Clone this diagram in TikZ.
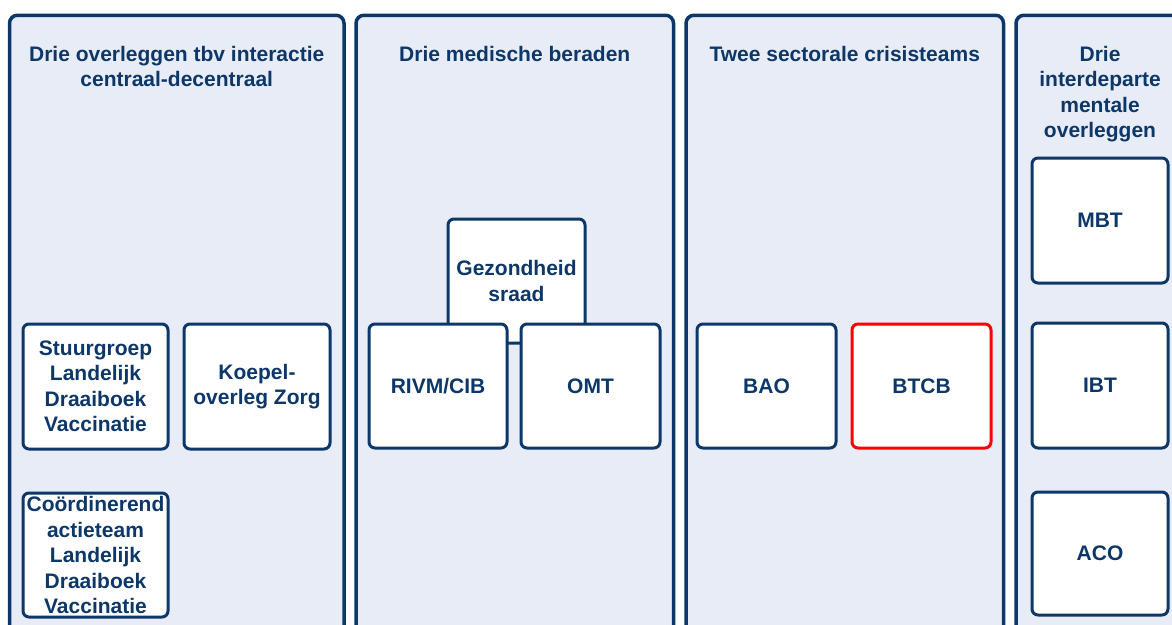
\documentclass[tikz,border=0pt]{standalone}
\usepackage{fontspec}
\setmainfont{Liberation Sans}
\usetikzlibrary{positioning}
\definecolor{navy}{RGB}{12,55,104}
\definecolor{paneel}{RGB}{232,236,246}
\definecolor{rood}{RGB}{255,0,0}

\begin{document}
\begin{tikzpicture}[x=1pt, y=-1pt, node distance=16pt,
	panel/.style={draw=navy, line width=3.5pt, fill=paneel, rounded corners=8pt, minimum width=#1, minimum height=660pt, anchor=north, inner sep=0pt},
	titel/.style={text=navy, font=\fontsize{21}{25.5}\selectfont\bfseries, align=center, anchor=north, inner sep=0pt},
	box/.style={draw=navy, line width=3pt, fill=white, rounded corners=6pt, text=navy, font=\fontsize{21}{25.5}\selectfont\bfseries, align=center, minimum width=138pt, minimum height=124pt, inner sep=0pt, outer sep=0pt}]
			\clip (0,0) rectangle (1172,624);
			% vier panelen
			\node[panel=334.5pt] (p1) at (176.75,13.5) {};
			\node[panel=317.5pt] (p2) at (514.75,13.5) {};
			\node[panel=317.5pt] (p3) at (844.75,13.5) {};
			\node[panel=168pt] (p4) at (1100,13.5) {};
			\node[titel] (t1) at (176.75,46) {Drie overleggen tbv interactie\\centraal-decentraal};
			\node[titel] (t2) at (514.75,46) {Drie medische beraden};
			\node[titel] (t3) at (844.75,46) {Twee sectorale crisisteams};
			\node[titel] (t4) at (1100,46) {Drie\\interdeparte\\mentale\\overleggen};
			% centraal-decentraal
			\node[box, minimum width=145pt, minimum height=125pt] (stuur) at (95.5,386.5) {Stuurgroep\\Landelijk\\Draaiboek\\Vaccinatie};
			\node[box, minimum width=146pt, minimum height=125pt, right=of stuur] (koepel) {Koepel-\\overleg Zorg};
			\node[box, minimum width=145pt, below=44pt of stuur] (coord) {Coördinerend\\actieteam\\Landelijk\\Draaiboek\\Vaccinatie};
			% medische beraden
			\node[box, minimum width=137pt] (gez) at (516.5,281) {Gezondheid\\sraad};
			\node[box] (rivm) at (438,386) {RIVM/CIB};
			\node[box, minimum width=139pt, right=14pt of rivm] (omt) {OMT};
			% crisisteams
			\node[box, minimum width=139pt] (bao) at (766.5,386) {BAO};
			\node[box, minimum width=139pt, draw=rood, right=of bao] (btcb) {BTCB};
			% interdepartementaal
			\node[box, minimum width=136pt, minimum height=125pt] (mbt) at (1100,220.5) {MBT};
			\node[box, minimum width=136pt, minimum height=125pt, below=40pt of mbt] (ibt) {IBT};
			\node[box, minimum width=136pt, minimum height=123pt, below=44pt of ibt] (aco) {ACO};
		\end{tikzpicture}
\end{document}
